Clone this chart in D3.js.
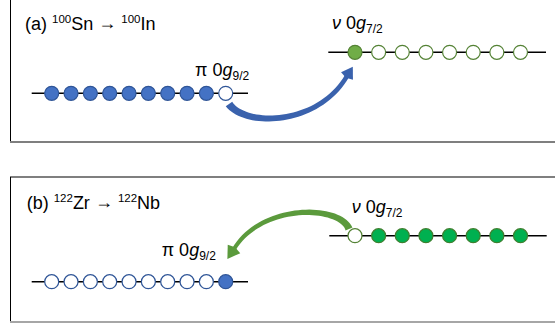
<!DOCTYPE html>
<html><head><meta charset="utf-8">
<script src="https://cdn.jsdelivr.net/npm/d3@7"></script>
<style>body{margin:0;background:#fff}svg{display:block}</style>
</head><body>
<svg id="c" width="555" height="323"></svg>
<script>
// ---- data ----
const panels = ["a", "b"];
const titles = [["(a) ", "100", "Sn", " \u2192 ", "100", "In"], ["(b) ", "122", "Zr", " \u2192 ", "122", "Nb"]];
const protonSlots = [0,1,2,3,4,5,6,7,8,9];
const neutronSlots = [0,1,2,3,4,5,6,7];
const protonOccA = [1,1,1,1,1,1,1,1,1,0];
const neutronOccA = [1,0,0,0,0,0,0,0];
const protonOccB = [0,0,0,0,0,0,0,0,0,1];
const neutronOccB = [0,1,1,1,1,1,1,1];
const protonLabel = ["\u03C0", " 0", "g", "9/2"];
const neutronLabel = ["\u03BD", " 0", "g", "7/2"];

const svg = d3.select("#c");
const font = "'Liberation Sans', Arial, sans-serif";

// scales
const xp = d3.scaleLinear().domain([0, 9]).range([51.7, 225.7]);
const xn = d3.scaleLinear().domain([0, 7]).range([355, 520.5]);
const R = 7;

// frames
svg.append("line").attr("x1",10.5).attr("x2",10.5).attr("y1",0).attr("y2",142).attr("stroke","#000").attr("stroke-width",1);
svg.append("line").attr("x1",10).attr("x2",555).attr("y1",142).attr("y2",142).attr("stroke","#7f7f7f").attr("stroke-width",2);
svg.append("line").attr("x1",10).attr("x2",555).attr("y1",177).attr("y2",177).attr("stroke","#7f7f7f").attr("stroke-width",2);
svg.append("line").attr("x1",10.5).attr("x2",10.5).attr("y1",177).attr("y2",322).attr("stroke","#000").attr("stroke-width",1);
svg.append("line").attr("x1",10).attr("x2",555).attr("y1",322).attr("y2",322).attr("stroke","#a6a6a6").attr("stroke-width",2);

function title(t, x, y) {
  const tx = svg.append("text").attr("x", x).attr("y", y).attr("font-family", font).attr("font-size", 18).attr("fill", "#000");
  tx.append("tspan").text(t[0]);
  tx.append("tspan").text(t[1]).attr("font-size", 11.5).attr("dy", -7);
  tx.append("tspan").text(t[2]).attr("dy", 7);
  tx.append("tspan").text(t[3]).attr("font-size", 18).attr("dy", -1).attr("transform", null);
  tx.append("tspan").text(t[4]).attr("font-size", 11.5).attr("dy", -6);
  tx.append("tspan").text(t[5]).attr("dy", 7);
}
function orbLabel(l, x, y, greekItalic) {
  const tx = svg.append("text").attr("x", x).attr("y", y).attr("font-family", font).attr("font-size", 18).attr("fill", "#000");
  tx.append("tspan").text(l[0]).attr("font-style", greekItalic ? "italic" : "normal");
  tx.append("tspan").text(l[1]);
  tx.append("tspan").text(l[2]).attr("font-style", "italic");
  tx.append("tspan").text(l[3]).attr("font-size", 12).attr("dy", 4);
}
function level(slots, occ, x, y, x1, x2, fill, stroke, emptyStroke) {
  svg.append("line").attr("x1", x1).attr("x2", x2).attr("y1", y).attr("y2", y).attr("stroke", "#000").attr("stroke-width", 1.5);
  svg.append("g").selectAll("circle").data(slots).join("circle")
    .attr("cx", d => x(d)).attr("cy", y).attr("r", R)
    .attr("fill", d => occ[d] ? fill : "#fff")
    .attr("stroke", d => occ[d] ? stroke : emptyStroke)
    .attr("stroke-width", 1.2);
}
function bez(p, t) {
  const u = 1 - t;
  return [u*u*u*p[0][0] + 3*u*u*t*p[1][0] + 3*u*t*t*p[2][0] + t*t*t*p[3][0],
          u*u*u*p[0][1] + 3*u*u*t*p[1][1] + 3*u*t*t*p[2][1] + t*t*t*p[3][1]];
}
function arrow(p, w0, w1, headL, headW, color) {
  const N = 40, L = [], Rr = [];
  for (let i = 0; i <= N; i++) {
    const t = i / N;
    const a = bez(p, Math.max(0, t - 0.01)), b = bez(p, Math.min(1, t + 0.01));
    let dx = b[0] - a[0], dy = b[1] - a[1]; const n = Math.hypot(dx, dy); dx /= n; dy /= n;
    const c = bez(p, t);
    const w = (w0 + (w1 - w0) * Math.pow(t, 0.6)) / 2;
    L.push([c[0] - dy * w, c[1] + dx * w]);
    Rr.push([c[0] + dy * w, c[1] - dx * w]);
  }
  const body = L.concat(Rr.reverse());
  svg.append("path").attr("d", d3.line()(body) + "Z").attr("fill", color);
  const e = p[3], pr = bez(p, 0.97);
  let dx = e[0] - pr[0], dy = e[1] - pr[1]; const n = Math.hypot(dx, dy); dx /= n; dy /= n;
  const tip = [e[0] + dx * headL, e[1] + dy * headL];
  const h = [[tip[0], tip[1]], [e[0] - dy * headW, e[1] + dx * headW], [e[0] - dx * 2, e[1] - dy * 2], [e[0] + dy * headW, e[1] - dx * headW]];
  svg.append("path").attr("d", d3.line()(h) + "Z").attr("fill", color);
}

// panel (a)
title(titles[0], 25, 30);
orbLabel(protonLabel, 195, 76, false);
orbLabel(neutronLabel, 332, 29, true);
arrow([[229, 104], [245, 127], [318, 126], [347, 76]], 8, 4.5, 11, 7, "#3a62ad");
level(protonSlots, protonOccA, xp, 93.3, 31.7, 248, "#4472c4", "#2f5597", "#2f5597");
level(neutronSlots, neutronOccA, xn, 52.3, 328.3, 546, "#70ad47", "#548235", "#548235");

// panel (b)
title(titles[1], 26.7, 209);
orbLabel(protonLabel, 161.7, 256, false);
orbLabel(neutronLabel, 351.7, 213, true);
arrow([[349, 229], [340, 205], [262, 203], [234, 249]], 7.5, 4, 12, 7.5, "#5b9a3c");
level(protonSlots, protonOccB, xp, 281.7, 31.7, 248, "#4472c4", "#2f5597", "#2f5597");
level(neutronSlots, neutronOccB, xn, 235.7, 329.3, 546.7, "#00b050", "#3f7f2f", "#548235");
</script>
</body></html>
